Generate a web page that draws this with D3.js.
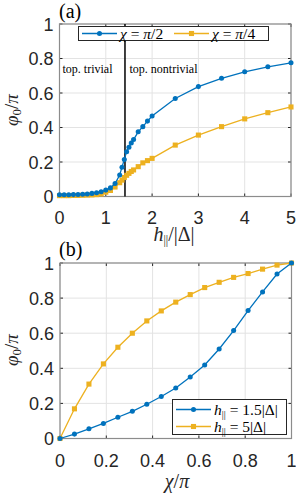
<!DOCTYPE html>
<html>
<head>
<meta charset="utf-8">
<script src="https://d3js.org/d3.v7.min.js"></script>
<style>
  body { margin: 0; background: #fff; }
  text { font-family: "Liberation Sans", Arial, sans-serif; }
  .serif { font-family: "Liberation Serif", "Times New Roman", serif; }
</style>
</head>
<body>
<div id="container"></div>
<script>
// panel (a): phi0/pi vs h/|Delta|
var hVals = [0, 0.1, 0.2, 0.3, 0.4, 0.5, 0.6, 0.7, 0.8, 0.9, 1.0, 1.1, 1.2, 1.3, 1.35, 1.4, 1.45, 1.5, 1.55, 1.6, 1.7, 1.8, 1.9, 2.0, 2.5, 3, 3.5, 4, 4.5, 5];
var phiHalf = [0.010, 0.010, 0.010, 0.011, 0.012, 0.013, 0.015, 0.018, 0.022, 0.028, 0.037, 0.050, 0.075, 0.125, 0.170, 0.215, 0.260, 0.285, 0.310, 0.330, 0.375, 0.405, 0.437, 0.467, 0.568, 0.637, 0.685, 0.723, 0.752, 0.775];
var phiQuarter = [0.005, 0.005, 0.005, 0.006, 0.006, 0.007, 0.008, 0.009, 0.011, 0.015, 0.025, 0.035, 0.055, 0.080, 0.095, 0.110, 0.123, 0.134, 0.145, 0.154, 0.173, 0.195, 0.208, 0.221, 0.298, 0.356, 0.405, 0.450, 0.486, 0.519];
var hCritical = Math.SQRT2;

// panel (b): phi0/pi vs chi/pi
var chiVals = [0, 0.0625, 0.125, 0.1875, 0.25, 0.3125, 0.375, 0.4375, 0.5, 0.5625, 0.625, 0.6875, 0.75, 0.8125, 0.875, 0.9375, 1];
var phiH15 = [0, 0.025, 0.055, 0.086, 0.121, 0.155, 0.195, 0.239, 0.288, 0.350, 0.419, 0.510, 0.615, 0.729, 0.835, 0.937, 1.0];
var phiH5 = [0, 0.169, 0.310, 0.425, 0.520, 0.600, 0.670, 0.727, 0.777, 0.820, 0.860, 0.890, 0.918, 0.940, 0.965, 0.988, 1.0];

var xTicksA = [0, 1, 2, 3, 4, 5];
var xTicksB = [0, 0.2, 0.4, 0.6, 0.8, 1];
var yTicks = [0, 0.2, 0.4, 0.6, 0.8, 1];

var blue = "#0072BD", gold = "#EDB120";

var svg = d3.select("#container").append("svg")
    .attr("width", 296)
    .attr("height", 494);

function drawAxes(x, y, xTicks, fmt, xLabelDy) {
  var g = svg.append("g");
  var x0 = x.range()[0], x1 = x.range()[1], y0 = y.range()[0], y1 = y.range()[1];

  // grid
  g.selectAll(".gx").data(xTicks).enter().append("line")
      .attr("x1", function(d) { return x(d); }).attr("x2", function(d) { return x(d); })
      .attr("y1", y0).attr("y2", y1)
      .attr("stroke", "#e3e3e3").attr("stroke-width", 1);
  g.selectAll(".gy").data(yTicks).enter().append("line")
      .attr("y1", function(d) { return y(d); }).attr("y2", function(d) { return y(d); })
      .attr("x1", x0).attr("x2", x1)
      .attr("stroke", "#e3e3e3").attr("stroke-width", 1);

  // inner ticks on all four sides
  var tl = 3;
  xTicks.forEach(function(d) {
    g.append("line").attr("x1", x(d)).attr("x2", x(d)).attr("y1", y0).attr("y2", y0 - tl).attr("stroke", "#262626");
    g.append("line").attr("x1", x(d)).attr("x2", x(d)).attr("y1", y1).attr("y2", y1 + tl).attr("stroke", "#262626");
  });
  yTicks.forEach(function(d) {
    g.append("line").attr("y1", y(d)).attr("y2", y(d)).attr("x1", x0).attr("x2", x0 + tl).attr("stroke", "#262626");
    g.append("line").attr("y1", y(d)).attr("y2", y(d)).attr("x1", x1).attr("x2", x1 - tl).attr("stroke", "#262626");
  });

  g.append("rect")
      .attr("x", x0).attr("y", y1)
      .attr("width", x1 - x0).attr("height", y0 - y1)
      .attr("fill", "none").attr("stroke", "#8c8c8c").attr("stroke-width", 1.2);

  g.selectAll(".xl").data(xTicks).enter().append("text")
      .attr("x", function(d) { return x(d); })
      .attr("y", y0 + xLabelDy)
      .attr("text-anchor", "middle")
      .attr("font-size", 18)
      .attr("fill", "#262626")
      .text(fmt);
  g.selectAll(".yl").data(yTicks).enter().append("text")
      .attr("x", x0 - 6)
      .attr("y", function(d) { return y(d) + 6.5; })
      .attr("text-anchor", "end")
      .attr("font-size", 18)
      .attr("fill", "#262626")
      .text(function(d) { return d3.format("")(d); });
}

function drawSeries(x, y, xs, ys, color, marker, size) {
  var pts = xs.map(function(d, i) { return [d, ys[i]]; });
  var line = d3.line()
      .x(function(p) { return x(p[0]); })
      .y(function(p) { return y(p[1]); });
  svg.append("path")
      .datum(pts)
      .attr("d", line)
      .attr("fill", "none")
      .attr("stroke", color)
      .attr("stroke-width", 1.3);
  var sym = d3.symbol().type(marker).size(size);
  svg.append("g").selectAll("path")
      .data(pts)
    .enter().append("path")
      .attr("d", sym)
      .attr("transform", function(p) { return "translate(" + x(p[0]) + "," + y(p[1]) + ")"; })
      .attr("fill", color);
}

function yLabel(cy) {
  var t = svg.append("text")
      .attr("class", "serif")
      .attr("transform", "translate(18," + cy + ") rotate(-90)")
      .attr("text-anchor", "middle")
      .attr("font-size", 19)
      .attr("fill", "#262626");
  t.append("tspan").attr("font-style", "italic").text("φ");
  t.append("tspan").attr("font-size", 13).attr("dy", 3).text("0");
  t.append("tspan").attr("dy", -3).text("/");
  t.append("tspan").attr("font-style", "italic").text("π");
}

function legendEntry(g, x, y, color, marker, size, build) {
  g.append("line").attr("x1", x).attr("x2", x + 35).attr("y1", y).attr("y2", y)
      .attr("stroke", color).attr("stroke-width", 1.3);
  g.append("path").attr("d", d3.symbol().type(marker).size(size)())
      .attr("transform", "translate(" + (x + 17.5) + "," + y + ")")
      .attr("fill", color);
  var t = g.append("text").attr("class", "serif")
      .attr("x", x + 38).attr("y", y + 5)
      .attr("font-size", 15.5).attr("fill", "#000");
  build(t);
}

// ---------- panel (a) ----------
var xa = d3.scaleLinear().domain([0, 5]).range([59.5, 291]);
var ya = d3.scaleLinear().domain([0, 1]).range([196.5, 24]);
drawAxes(xa, ya, xTicksA, function(d) { return d; }, 27.5);

svg.append("line")
    .attr("x1", xa(hCritical)).attr("x2", xa(hCritical))
    .attr("y1", ya(0)).attr("y2", ya(1))
    .attr("stroke", "#000").attr("stroke-width", 1.5);

drawSeries(xa, ya, hVals, phiQuarter, gold, d3.symbolSquare, 26);
drawSeries(xa, ya, hVals, phiHalf, blue, d3.symbolCircle, 20);

svg.append("text").attr("class", "serif")
    .attr("x", 62.5).attr("y", 73)
    .attr("font-size", 12).attr("fill", "#000")
    .text("top. trivial");
svg.append("text").attr("class", "serif")
    .attr("x", 129.5).attr("y", 73)
    .attr("font-size", 12).attr("fill", "#000")
    .text("top. nontrivial");

var legA = svg.append("g");
legA.append("rect").attr("x", 78.5).attr("y", 26.5).attr("width", 190).attr("height", 14)
    .attr("fill", "#fff").attr("stroke", "#262626").attr("stroke-width", 1);
legendEntry(legA, 82, 33.5, blue, d3.symbolCircle, 20, function(t) {
  t.append("tspan").attr("font-style", "italic").text("χ");
  t.append("tspan").text(" = ");
  t.append("tspan").attr("font-style", "italic").text("π");
  t.append("tspan").text("/2");
});
legendEntry(legA, 174, 33.5, gold, d3.symbolSquare, 26, function(t) {
  t.append("tspan").attr("font-style", "italic").text("χ");
  t.append("tspan").text(" = ");
  t.append("tspan").attr("font-style", "italic").text("π");
  t.append("tspan").text("/4");
});

svg.append("text").attr("class", "serif")
    .attr("x", 59).attr("y", 18)
    .attr("font-size", 20).attr("fill", "#000")
    .text("(a)");

yLabel(110);

var xla = svg.append("text").attr("class", "serif")
    .attr("x", 174).attr("y", 241)
    .attr("text-anchor", "middle")
    .attr("font-size", 20).attr("fill", "#262626");
xla.append("tspan").attr("font-style", "italic").text("h");
xla.append("tspan").attr("font-size", 12).attr("dy", 3).text("||");
xla.append("tspan").attr("dy", -3).text("/|Δ|");

// ---------- panel (b) ----------
var xb = d3.scaleLinear().domain([0, 1]).range([60, 291.5]);
var yb = d3.scaleLinear().domain([0, 1]).range([438.5, 263]);
drawAxes(xb, yb, xTicksB, function(d) { return d3.format("")(d); }, 28);

drawSeries(xb, yb, chiVals, phiH5, gold, d3.symbolSquare, 26);
drawSeries(xb, yb, chiVals, phiH15, blue, d3.symbolCircle, 20);

var legB = svg.append("g");
legB.append("rect").attr("x", 172.5).attr("y", 399.5).attr("width", 114).attr("height", 35)
    .attr("fill", "#fff").attr("stroke", "#262626").attr("stroke-width", 1);
legendEntry(legB, 176, 409.5, blue, d3.symbolCircle, 20, function(t) {
  t.append("tspan").attr("font-style", "italic").text("h");
  t.append("tspan").attr("font-size", 10).attr("dy", 3).text("||");
  t.append("tspan").attr("dy", -3).text(" = 1.5|Δ|");
});
legendEntry(legB, 176, 426.5, gold, d3.symbolSquare, 26, function(t) {
  t.append("tspan").attr("font-style", "italic").text("h");
  t.append("tspan").attr("font-size", 10).attr("dy", 3).text("||");
  t.append("tspan").attr("dy", -3).text(" = 5|Δ|");
});

svg.append("text").attr("class", "serif")
    .attr("x", 59).attr("y", 256)
    .attr("font-size", 20).attr("fill", "#000")
    .text("(b)");

yLabel(350);

var xlb = svg.append("text").attr("class", "serif")
    .attr("x", 177).attr("y", 488)
    .attr("text-anchor", "middle")
    .attr("font-size", 20).attr("fill", "#262626");
xlb.append("tspan").attr("font-style", "italic").text("χ");
xlb.append("tspan").text("/");
xlb.append("tspan").attr("font-style", "italic").text("π");
</script>
</body>
</html>
